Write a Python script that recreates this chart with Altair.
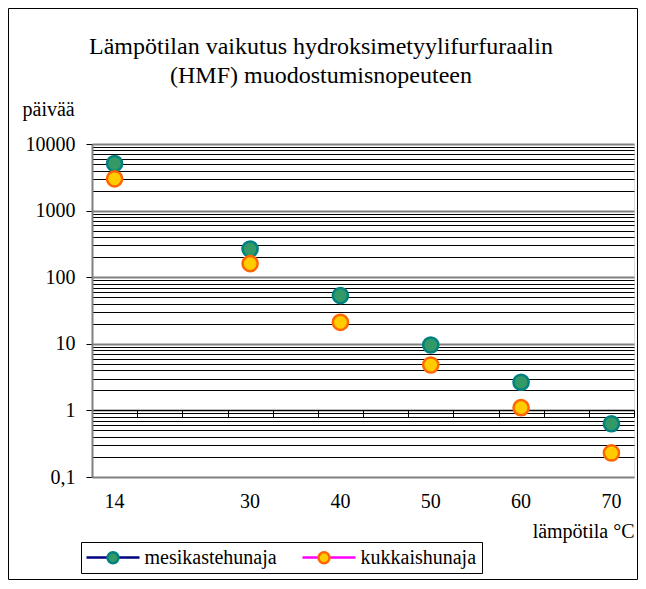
import altair as alt
import pandas as pd

# ---- data ----
x_categories = ["14", "", "", "30", "", "40", "", "50", "", "60", "", "70"]
temperatures = ["14", "30", "40", "50", "60", "70"]
series_names = ["mesikastehunaja", "kukkaishunaja"]
mesikastehunaja = [5100, 265, 53, 9.6, 2.65, 0.63]
kukkaishunaja = [3000, 160, 21, 4.8, 1.1, 0.23]
decades = [0.1, 1, 10, 100, 1000, 10000]
minor_steps = [1, 2, 3, 4, 5, 6, 7, 8, 9]

FONT = "Times New Roman, Liberation Serif, Tinos, DejaVu Serif, serif"
W, H = 542, 333
PAD = {"left": 84, "top": 136, "right": 630 - 84 - W, "bottom": 572 - 136 - H}

rows = []
for name, vals in zip(series_names, [mesikastehunaja, kukkaishunaja]):
    for t, v in zip(temperatures, vals):
        rows.append({"slot": x_categories.index(t), "temp": t, "series": name, "value": v})
df = pd.DataFrame(rows)

grid_values = [d * m for d in decades[:-1] for m in minor_steps] + [decades[-1]]

xscale = alt.Scale(type="band", domain=list(range(len(x_categories))), paddingInner=0, paddingOuter=0)
yscale = alt.Scale(type="log", domain=[decades[0], decades[-1]], nice=False)

label_js = "[" + ",".join("'" + c + "'" for c in x_categories) + "]"
decade_test = "abs(log(datum.value)/LN10 - round(log(datum.value)/LN10)) < 0.001"

y_axis = alt.Axis(
    values=grid_values,
    labelExpr=f"({decade_test}) ? replace(format(datum.value, ''), '.', ',') : ''",
    labelOverlap=False, labelFlush=False,
    grid=True,
    gridColor={"condition": {"test": decade_test, "value": "#808080"}, "value": "#000000"},
    gridWidth={"condition": {"test": decade_test, "value": 2}, "value": 1},
    tickOpacity={"condition": {"test": decade_test, "value": 1}, "value": 0},
    tickSize=6, tickColor="black", tickWidth=1,
    domainColor="#808080", domainWidth=2,
    labelFont=FONT, labelFontSize=20, labelColor="black", labelPadding=11,
    title="päivää", titleAngle=0, titleAlign="left", titleBaseline="alphabetic",
    titleX=-70, titleY=-29, titleFont=FONT, titleFontSize=20,
    titleFontWeight="normal", titleColor="black",
)

x_axis_bottom = alt.Axis(
    orient="bottom",
    labelExpr=f"{label_js}[datum.value]", ticks=False, domain=False, grid=False,
    labelAngle=0, labelPadding=14, labelFont=FONT, labelFontSize=20, labelColor="black",
    title="lämpötila °C", titleFont=FONT, titleFontSize=20, titleFontWeight="normal",
    titleColor="black", titleAnchor="end", titleAlign="right", titleX=W, titleY=60,
    titleBaseline="alphabetic",
)

x_axis_cross = alt.Axis(
    orient="bottom", offset=-round(H / (len(decades) - 1)), labels=False, ticks=True,
    tickBand="extent", tickSize=7, tickColor="black", tickWidth=1,
    domain=True, domainColor="black", domainWidth=1, grid=False, title=None,
)

# legend symbols: a 53px line with a circle in its middle, built on a 17px symbol box
line_path = "M-1.176,0L5.059,0"
circle_path = "M1.294,0A0.647,0.647,0,1,1,2.588,0A0.647,0.647,0,1,1,1.294,0Z"
legend_common = dict(
    orient="none", legendX=-11, legendY=398, direction="horizontal",
    symbolSize=289, symbolStrokeWidth=2.5, labelFont=FONT, labelFontSize=20,
    labelOffset=38, columnPadding=20, padding=5.5, title=None,
)

points = alt.Chart(df).mark_point(
    filled=True, shape="circle", size=230, strokeWidth=2.5, opacity=1
).encode(
    x=alt.X("slot:O", scale=xscale, bandPosition=0.5, axis=x_axis_bottom),
    y=alt.Y("value:Q", scale=yscale, axis=y_axis),
    fill=alt.Fill("series:N", sort=series_names,
                  scale=alt.Scale(range=["#339966", "#FFCC00"]),
                  legend=alt.Legend(symbolType=circle_path, labelOpacity=0,
                                    symbolStrokeColor="transparent", zindex=1, **legend_common)),
    stroke=alt.Stroke("series:N", sort="descending",
                      scale=alt.Scale(range=["#008080", "#FF6600"]),
                      legend=alt.Legend(symbolType=circle_path, labelOpacity=0,
                                        symbolFillColor="transparent", zindex=2, **legend_common)),
)

lines = alt.Chart(df).transform_filter("false").mark_line(strokeWidth=2.5).encode(
    x=alt.X("slot:O", scale=xscale, bandPosition=0.5, axis=x_axis_cross),
    y=alt.Y("value:Q", scale=yscale, axis=y_axis),
    color=alt.Color("series:N", scale=alt.Scale(domain=series_names, range=["#000080", "#FF00FF"]),
                    legend=alt.Legend(symbolType=line_path, labelColor="black",
                                      symbolFillColor="transparent", zindex=0,
                                      strokeColor="black", **legend_common)),
)

frame = alt.Chart(alt.Data(values=[{}])).mark_rect(
    fill="transparent", stroke="black", strokeWidth=1
).encode(
    x=alt.value(-PAD["left"] + 0.5), x2=alt.value(W + PAD["right"] - 0.5),
    y=alt.value(-PAD["top"] + 0.5), y2=alt.value(H + PAD["bottom"] - 0.5),
)

chart = alt.layer(frame, lines, points).resolve_axis(x="independent").properties(
    width=W, height=H,
    title=alt.Title(
        text=["Lämpötilan vaikutus hydroksimetyylifurfuraalin", "(HMF) muodostumisnopeuteen"],
        font=FONT, fontSize=24, fontWeight="normal", color="black", anchor="middle",
        lineHeight=29, dx=-42, offset=-80,
    ),
    autosize=alt.AutoSizeParams(type="none"),
    padding=PAD,
).configure_view(stroke="#808080", strokeWidth=2).configure(background="white")

chart.save("out.html", embed_options={"renderer": "svg", "actions": False})
